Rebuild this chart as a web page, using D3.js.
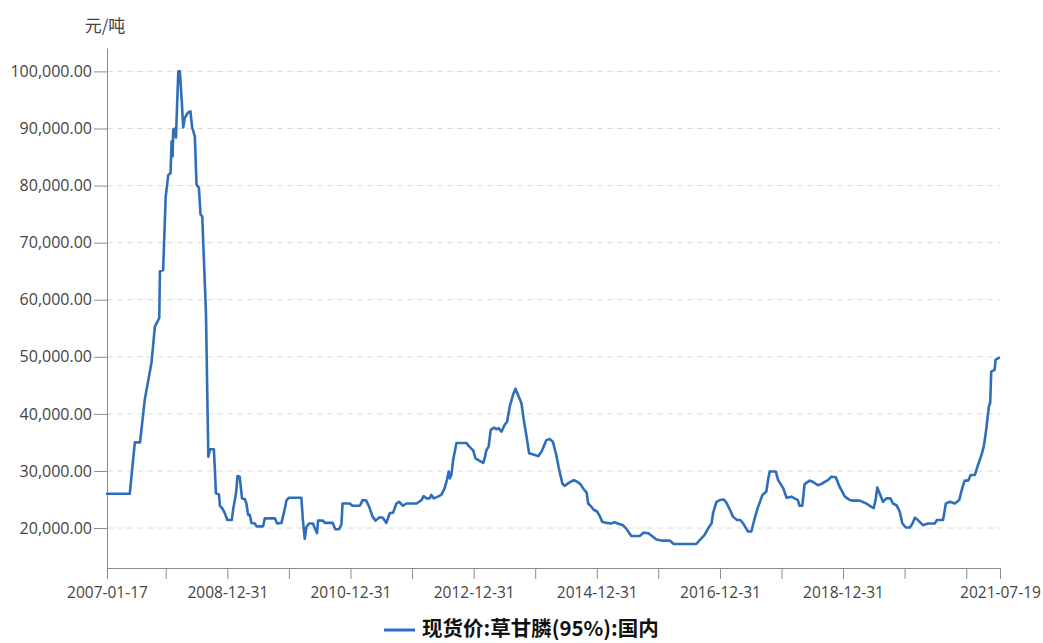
<!DOCTYPE html>
<html><head><meta charset="utf-8">
<script src="https://cdn.jsdelivr.net/npm/d3@7"></script>
<style>body{margin:0;background:#fff;overflow:hidden;}</style>
</head><body>
<svg id="c" width="1043" height="643"></svg>
<script>
const seriesName = "现货价:草甘膦(95%):国内";
const unitLabel = "元/吨";
const dates = [
"2007-01-17","2007-06-01","2007-07-01","2007-08-01","2007-08-29","2007-10-08","2007-10-28","2007-11-23","2007-11-27","2007-12-16",
"2007-12-31","2008-01-15","2008-01-29","2008-02-04","2008-02-10","2008-02-14","2008-02-24","2008-03-01","2008-03-15","2008-03-24",
"2008-04-04","2008-04-13","2008-04-23","2008-05-12","2008-05-26","2008-06-05","2008-06-21","2008-07-01","2008-07-15","2008-07-25",
"2008-08-04","2008-08-26","2008-09-09","2008-09-19","2008-10-12","2008-10-18","2008-10-24","2008-11-11","2008-11-17","2008-12-02",
"2008-12-16","2008-12-31","2009-01-26","2009-02-04","2009-02-20","2009-03-01","2009-03-14","2009-03-28","2009-04-13","2009-04-23",
"2009-05-03","2009-05-13","2009-05-23","2009-06-12","2009-06-22","2009-07-31","2009-08-10","2009-10-09","2009-10-22","2009-11-17",
"2009-12-07","2009-12-17","2009-12-31","2010-03-15","2010-03-24","2010-04-04","2010-04-14","2010-04-29","2010-05-23","2010-06-02",
"2010-06-16","2010-06-22","2010-07-21","2010-08-01","2010-09-17","2010-10-02","2010-10-25","2010-11-08","2010-11-14","2010-12-27",
"2011-01-11","2011-02-25","2011-03-13","2011-04-04","2011-04-24","2011-05-11","2011-05-29","2011-06-22","2011-07-11","2011-08-01",
"2011-08-21","2011-09-10","2011-09-30","2011-10-15","2011-11-08","2011-11-28","2012-01-27","2012-02-26","2012-03-09","2012-03-25",
"2012-04-14","2012-04-24","2012-05-08","2012-06-02","2012-06-22","2012-07-12","2012-07-25","2012-08-05","2012-08-11","2012-08-21",
"2012-08-31","2012-09-20","2012-11-19","2012-12-04","2012-12-28","2013-01-11","2013-02-02","2013-02-26","2013-03-06","2013-03-16",
"2013-03-30","2013-04-11","2013-05-01","2013-05-14","2013-05-28","2013-06-14","2013-07-03","2013-07-17","2013-08-02","2013-08-21",
"2013-09-05","2013-09-20","2013-10-10","2013-10-24","2013-11-08","2013-11-25","2013-12-29","2014-01-18","2014-02-07","2014-03-07",
"2014-03-26","2014-04-15","2014-05-05","2014-05-20","2014-06-10","2014-06-23","2014-07-23","2014-08-16","2014-09-01","2014-09-25",
"2014-10-15","2014-11-01","2014-11-10","2014-11-30","2014-12-13","2015-01-02","2015-01-18","2015-02-01","2015-02-27","2015-03-27",
"2015-04-16","2015-05-05","2015-06-04","2015-06-24","2015-07-24","2015-09-12","2015-10-05","2015-11-01","2015-11-20","2015-12-20",
"2016-01-19","2016-03-08","2016-04-01","2016-08-13","2016-09-02","2016-10-01","2016-10-27","2016-11-11","2016-11-20","2016-12-10",
"2016-12-30","2017-01-23","2017-02-08","2017-02-28","2017-03-18","2017-04-11","2017-05-01","2017-05-20","2017-06-15","2017-07-05",
"2017-07-25","2017-08-14","2017-09-09","2017-10-02","2017-10-12","2017-10-22","2017-11-27","2017-12-11","2018-01-10","2018-01-30",
"2018-02-28","2018-03-18","2018-04-07","2018-04-17","2018-05-03","2018-05-17","2018-06-16","2018-07-05","2018-08-04","2018-08-24",
"2018-09-13","2018-10-03","2018-10-23","2018-11-18","2018-12-11","2019-01-11","2019-02-10","2019-03-01","2019-04-08","2019-05-18",
"2019-06-17","2019-07-01","2019-07-12","2019-07-22","2019-08-05","2019-08-25","2019-09-14","2019-10-08","2019-10-23","2019-11-13",
"2019-12-02","2019-12-18","2020-01-07","2020-01-31","2020-02-16","2020-03-01","2020-03-19","2020-04-18","2020-05-18","2020-06-27",
"2020-07-10","2020-08-15","2020-09-01","2020-09-25","2020-10-24","2020-11-19","2020-12-09","2020-12-22","2021-01-11","2021-01-26",
"2021-02-20","2021-03-10","2021-03-31","2021-04-14","2021-04-28","2021-05-14","2021-05-22","2021-05-28","2021-06-17","2021-06-23",
"2021-07-13"
];
const values = [
26000,26000,35000,35000,42500,49000,55300,56800,65000,65200,
78000,81800,82200,87700,85100,89800,90000,88400,100000,100000,
95000,90200,91900,92800,93000,90200,88600,80200,79600,74900,
74600,57700,32500,33800,33800,30200,26100,25900,23900,23400,
22600,21400,21400,23400,26000,29100,29000,25200,25100,24300,
22300,22300,20900,20800,20300,20300,21700,21700,20800,20900,
23400,24900,25300,25300,21400,18100,20200,20800,20800,20000,
19100,21300,21300,20900,20900,19800,19800,20700,24300,24300,
23900,23900,24900,24800,23500,22000,21300,21900,21800,20900,
22600,22700,24300,24600,23900,24300,24300,24900,25600,25200,
25200,25800,25200,25500,25800,27000,28400,29900,28700,29300,
31900,34900,34900,34300,33600,32200,31800,31400,32200,33600,
34300,37200,37600,37300,37500,36900,38100,38600,41300,43300,
44400,43300,41900,39000,36300,33100,32800,32600,33400,35400,
35600,35100,32800,30500,27800,27400,28000,28400,28200,27700,
26800,26200,24300,23700,23200,22900,22100,21100,20900,20800,
21000,20800,20500,19900,18600,18600,19200,19100,18700,18000,
17800,17800,17200,17200,17900,18800,20200,20800,22600,24600,
24900,25000,24400,23200,22000,21400,21400,20700,19400,19400,
21700,23700,25800,26400,28400,29900,29900,28400,27000,25300,
25500,25200,24900,23900,23900,27700,28300,28100,27500,27700,
28100,28400,29000,28900,27200,25500,24900,24800,24800,24300,
23700,23500,24900,27100,26100,24600,25200,25200,24300,24000,
22900,20800,20100,20100,20800,21800,21400,20500,20800,20800,
21400,21400,24300,24600,24300,24900,27200,28300,28300,29300,
29300,31000,32800,34300,37200,41300,42000,47400,47700,49500,
49800
];
const yTickValues = [20000,30000,40000,50000,60000,70000,80000,90000,100000];
const xTickDates = ["2007-01-17","2007-12-31","2008-12-31","2009-12-31","2010-12-31","2011-12-31","2012-12-31","2013-12-31","2014-12-31","2015-12-31","2016-12-31","2017-12-31","2018-12-31","2019-12-31","2020-12-31","2021-07-19"];
const xTickLabels = ["2007-01-17","","2008-12-31","","2010-12-31","","2012-12-31","","2014-12-31","","2016-12-31","","2018-12-31","","","2021-07-19"];

(function(){
const parse = d3.timeParse("%Y-%m-%d");
const data = dates.map((d,i)=>({date:parse(d), value:values[i]}));

const svg = d3.select("#c");
const mL = 107, mR = 1000, mT = 48, mB = 568;
const x = d3.scaleTime().domain([parse("2007-01-17"), parse("2021-07-19")]).range([mL, mR]);
const y = d3.scaleLinear().domain([13000, 104100]).range([mB, mT]);

const font = "'Open Sans', 'Noto Sans', sans-serif";

svg.append("g").selectAll("line").data(yTickValues).join("line")
  .attr("x1", mL).attr("x2", mR)
  .attr("y1", d=>y(d)).attr("y2", d=>y(d))
  .attr("stroke", "#dcdcdc").attr("stroke-width", 1).attr("stroke-dasharray", "6,4");

const yAxis = svg.append("g").attr("transform", `translate(${mL},0)`)
  .call(d3.axisLeft(y).tickValues(yTickValues).tickFormat(d3.format(",.2f")).tickSize(13).tickPadding(2).tickSizeOuter(0));
yAxis.select(".domain").attr("stroke", "#8c8c8c");
yAxis.selectAll(".tick line").attr("stroke", "#8c8c8c");
yAxis.selectAll("text").attr("fill", "#444").style("font-family", font).style("font-size", "16px");

const xAxis = svg.append("g").attr("transform", `translate(0,${mB})`)
  .call(d3.axisBottom(x).tickValues(xTickDates.map(parse)).tickFormat((d,i)=>xTickLabels[i]).tickSize(11).tickPadding(8).tickSizeOuter(0));
xAxis.select(".domain").attr("stroke", "#8c8c8c");
xAxis.selectAll(".tick line").attr("stroke", "#8c8c8c");
xAxis.selectAll("text").attr("fill", "#444").style("font-family", font).style("font-size", "15.5px");

svg.append("text").attr("x", 105).attr("y", 32).attr("text-anchor", "middle")
  .attr("fill", "#444").style("font-family", "'Noto Sans CJK SC', sans-serif").style("font-size", "17px")
  .text(unitLabel);

const line = d3.line().x(d=>x(d.date)).y(d=>y(d.value));
svg.append("path").datum(data).attr("d", line)
  .attr("fill", "none").attr("stroke", "#2f6eba").attr("stroke-width", 2.6)
  .attr("stroke-linejoin", "round").attr("stroke-linecap", "round");

svg.append("line").attr("x1", 384).attr("x2", 415).attr("y1", 630).attr("y2", 630)
  .attr("stroke", "#2f6eba").attr("stroke-width", 3);
svg.append("text").attr("x", 422).attr("y", 636).attr("fill", "#111")
  .style("font-family", "'Noto Sans CJK SC', sans-serif").style("font-size", "20.5px").style("font-weight", "bold")
  .text(seriesName);
})();
</script>
</body></html>
